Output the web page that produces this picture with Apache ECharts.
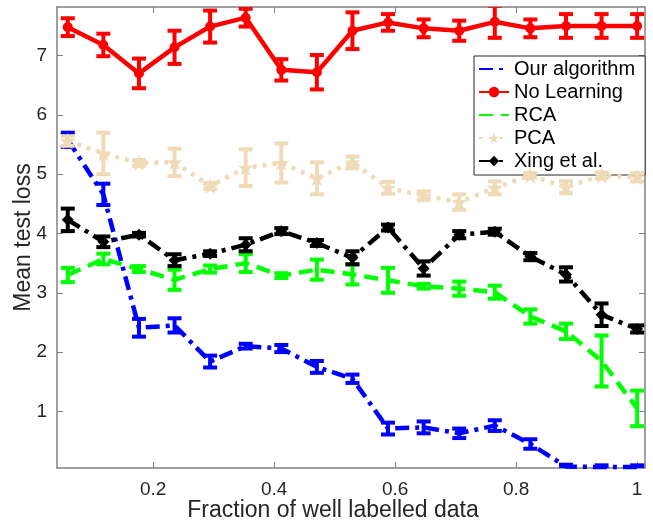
<!DOCTYPE html>
<html>
<head>
<meta charset="utf-8">
<script src="https://cdn.jsdelivr.net/npm/echarts@6/dist/echarts.min.js"></script>
<style>
html,body{margin:0;padding:0;background:#fff;}
#chart{width:653px;height:525px;}
</style>
</head>
<body>
<div id="chart"></div>
<script>
// ---- data ----
const xFraction = [0.0588, 0.1176, 0.1765, 0.2353, 0.2941, 0.3529, 0.4118, 0.4706, 0.5294, 0.5882, 0.6471, 0.7059, 0.7647, 0.8235, 0.8824, 0.9412, 1.0];

const ourAlgorithm    = [5.58, 4.66, 2.41, 2.45, 1.84, 2.10, 2.06, 1.75, 1.55, 0.71, 0.73, 0.63, 0.76, 0.45, 0.07, 0.06, 0.06];
const ourAlgorithmErr = [0.12, 0.18, 0.15, 0.12, 0.10, 0.04, 0.06, 0.10, 0.07, 0.10, 0.10, 0.08, 0.09, 0.08, 0.03, 0.03, 0.03];

const noLearning      = [7.48, 7.18, 6.70, 7.14, 7.49, 7.64, 6.76, 6.72, 7.42, 7.56, 7.46, 7.42, 7.57, 7.46, 7.50, 7.50, 7.50];
const noLearningErr   = [0.15, 0.19, 0.25, 0.28, 0.27, 0.15, 0.18, 0.29, 0.31, 0.14, 0.15, 0.17, 0.27, 0.15, 0.20, 0.20, 0.20];

const rca             = [3.30, 3.57, 3.40, 3.22, 3.40, 3.50, 3.29, 3.39, 3.31, 3.21, 3.11, 3.07, 3.01, 2.60, 2.35, 1.85, 1.05];
const rcaErr          = [0.12, 0.09, 0.05, 0.17, 0.06, 0.15, 0.04, 0.17, 0.17, 0.21, 0.04, 0.12, 0.11, 0.12, 0.13, 0.43, 0.30];

const pca             = [5.56, 5.35, 5.19, 5.20, 4.80, 5.11, 5.19, 4.93, 5.20, 4.77, 4.64, 4.53, 4.77, 4.98, 4.78, 4.98, 4.95];
const pcaErr          = [0.08, 0.35, 0.05, 0.23, 0.05, 0.31, 0.33, 0.27, 0.10, 0.10, 0.07, 0.13, 0.11, 0.04, 0.10, 0.05, 0.07];

const xing            = [4.23, 3.86, 3.98, 3.55, 3.66, 3.81, 4.04, 3.84, 3.59, 4.10, 3.41, 3.98, 4.03, 3.61, 3.31, 2.63, 2.39];
const xingErr         = [0.19, 0.09, 0.03, 0.10, 0.04, 0.11, 0.05, 0.05, 0.11, 0.05, 0.12, 0.06, 0.05, 0.06, 0.12, 0.19, 0.06];

const xTicks = [0.2, 0.4, 0.6, 0.8, 1];
const yTicks = [1, 2, 3, 4, 5, 6, 7];
const seriesNames = ['Our algorithm', 'No Learning', 'RCA', 'PCA', 'Xing et al.'];

// ---- chart ----
const FONT = '"Liberation Sans", Arial, Helvetica, sans-serif';
const AXIS_COLOR = '#808080';
const TEXT_COLOR = '#262626';
const X_MIN = 0.041, X_MAX = 1.013, Y_MIN = 0.045, Y_MAX = 7.82;
const STAR = 'path://M0,-10 L2.35,-3.24 L9.51,-3.09 L3.8,1.24 L5.88,8.09 L0,4 L-5.88,8.09 L-3.8,1.24 L-9.51,-3.09 L-2.35,-3.24 Z';

function pairs(ys){ return xFraction.map((x,i)=>[x, ys[i]]); }
function triples(ys, es){ return xFraction.map((x,i)=>[x, ys[i], es[i]]); }

function lineSeries(name, ys, color, dash, symbol, size, z){
  return {
    name, type:'line', data: pairs(ys), z,
    symbol, symbolSize:size, showSymbol: symbol !== 'none',
    itemStyle:{color, borderWidth:0},
    lineStyle:{color, width:4.5, type:dash, cap:'butt'},
    emphasis:{disabled:true}, animation:false, clip:true
  };
}
function errSeries(name, ys, es, color, z){
  return {
    name: name + ' err', type:'custom', z, animation:false, clip:true,
    data: triples(ys, es),
    encode:{x:0, y:[1]},
    renderItem(params, api){
      const x = api.value(0), y = api.value(1), e = api.value(2);
      const lo = api.coord([x, y - e]);
      const hi = api.coord([x, y + e]);
      const w = 7;
      const st = {stroke:color, lineWidth:4};
      return {type:'group', children:[
        {type:'line', shape:{x1:lo[0], y1:lo[1], x2:hi[0], y2:hi[1]}, style:st},
        {type:'line', shape:{x1:lo[0]-w, y1:lo[1], x2:lo[0]+w, y2:lo[1]}, style:st},
        {type:'line', shape:{x1:hi[0]-w, y1:hi[1], x2:hi[0]+w, y2:hi[1]}, style:st}
      ]};
    }
  };
}

const chart = echarts.init(document.getElementById('chart'), null, {renderer:'canvas'});
const axisCommon = {
  axisLine:{show:true, lineStyle:{color:AXIS_COLOR, width:1.5}},
  splitLine:{show:false},
};
chart.setOption({
  animation:false,
  backgroundColor:'#fff',
  grid:{left:57, right:8, top:7, bottom:57, containLabel:false, outerBoundsMode:'none'},
  legend:{
    orient:'vertical', left:474, top:56,
    data: [
      {name:'Our algorithm', itemStyle:{opacity:0}},
      {name:'No Learning'},
      {name:'RCA', itemStyle:{opacity:0}},
      {name:'PCA'},
      {name:'Xing et al.'}
    ],
    backgroundColor:'#fff', borderColor:'#262626', borderWidth:1, borderRadius:0,
    padding:[3,10,4,4], itemWidth:30, itemHeight:13, itemGap:3,
    selectedMode:false,
    textStyle:{fontSize:20, fontFamily:FONT, color:'#000'}
  },
  xAxis:[
    Object.assign({type:'value', min:X_MIN, max:X_MAX, position:'bottom',
      name:'Fraction of well labelled data', nameLocation:'middle', nameGap:31, nameMoveOverlap:false,
      nameTextStyle:{fontSize:23, fontFamily:FONT, color:TEXT_COLOR, padding:[0,36,0,0]},
      axisTick:{show:true, inside:true, length:6, customValues:xTicks, lineStyle:{color:AXIS_COLOR}},
      axisLabel:{show:true, customValues:xTicks, fontSize:19, fontFamily:FONT, color:TEXT_COLOR, margin:12,
        formatter:v=>String(Math.round(v*10)/10)}
    }, axisCommon),
    Object.assign({type:'value', min:X_MIN, max:X_MAX, position:'top',
      axisTick:{show:true, inside:true, length:6, customValues:xTicks, lineStyle:{color:AXIS_COLOR}},
      axisLabel:{show:false}
    }, axisCommon)
  ],
  yAxis:[
    Object.assign({type:'value', min:Y_MIN, max:Y_MAX, position:'left',
      name:'Mean test loss', nameLocation:'middle', nameGap:22, nameRotate:90, nameMoveOverlap:false,
      nameTextStyle:{fontSize:23, fontFamily:FONT, color:TEXT_COLOR},
      axisTick:{show:true, inside:true, length:6, customValues:yTicks, lineStyle:{color:AXIS_COLOR}},
      axisLabel:{show:true, customValues:yTicks, fontSize:19, fontFamily:FONT, color:TEXT_COLOR, margin:10}
    }, axisCommon),
    Object.assign({type:'value', min:Y_MIN, max:Y_MAX, position:'right',
      axisTick:{show:true, inside:true, length:6, customValues:yTicks, lineStyle:{color:AXIS_COLOR}},
      axisLabel:{show:false}
    }, axisCommon)
  ],
  series:[
    errSeries('Our algorithm', ourAlgorithm, ourAlgorithmErr, '#0000ff', 2),
    lineSeries('Our algorithm', ourAlgorithm, '#0000ff', [14,6,4,6], 'none', 0, 2),
    errSeries('No Learning', noLearning, noLearningErr, '#ff0000', 3),
    lineSeries('No Learning', noLearning, '#ff0000', 'solid', 'circle', 10, 3),
    errSeries('RCA', rca, rcaErr, '#00ff00', 4),
    lineSeries('RCA', rca, '#00ff00', [14,8], 'none', 0, 4),
    errSeries('PCA', pca, pcaErr, '#efdbb8', 5),
    lineSeries('PCA', pca, '#efdbb8', [4,6], STAR, 16, 5),
    errSeries('Xing et al.', xing, xingErr, '#000000', 6),
    lineSeries('Xing et al.', xing, '#000000', [14,6,4,6], 'diamond', 12, 6)
  ]
});
</script>
</body>
</html>
